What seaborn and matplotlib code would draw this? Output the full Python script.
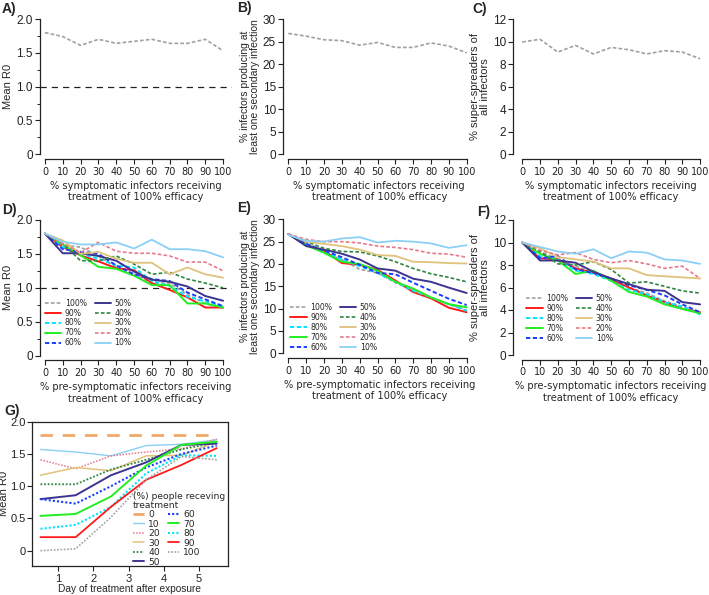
import numpy as np
import pandas as pd
import matplotlib
matplotlib.use("Agg")
import matplotlib.pyplot as plt
from matplotlib.ticker import MultipleLocator, FuncFormatter
import seaborn as sns

# ---- data ----
coverage = [0, 10, 20, 30, 40, 50, 60, 70, 80, 90, 100]

# A-C: symptomatic infectors treated
symp_r0 = [1.80, 1.74, 1.61, 1.70, 1.64, 1.67, 1.70, 1.64, 1.64, 1.70, 1.53]
symp_any = [26.8, 26.2, 25.4, 25.2, 24.2, 24.8, 23.7, 23.7, 24.7, 24.0, 22.5]
symp_super = [9.96, 10.2, 9.07, 9.66, 8.90, 9.48, 9.27, 8.90, 9.19, 9.07, 8.47]

# D-F: pre-symptomatic infectors treated, one row per % of symptomatic treated
groups = ["100%", "90%", "80%", "70%", "60%", "50%", "40%", "30%", "20%", "10%"]

pre_r0 = [
    [1.80, 1.63, 1.60, 1.47, 1.30, 1.20, 1.07, 1.07, 0.90, 0.77, 0.70],
    [1.80, 1.60, 1.48, 1.39, 1.29, 1.26, 1.07, 0.97, 0.86, 0.71, 0.71],
    [1.80, 1.60, 1.50, 1.43, 1.33, 1.30, 1.10, 1.03, 0.87, 0.80, 0.73],
    [1.80, 1.64, 1.48, 1.31, 1.28, 1.18, 1.04, 1.04, 0.77, 0.77, 0.71],
    [1.80, 1.57, 1.53, 1.50, 1.33, 1.20, 1.13, 1.10, 0.93, 0.83, 0.73],
    [1.80, 1.51, 1.51, 1.47, 1.40, 1.24, 1.12, 1.09, 1.02, 0.88, 0.81],
    [1.80, 1.65, 1.40, 1.40, 1.47, 1.35, 1.20, 1.23, 1.13, 1.07, 1.00],
    [1.80, 1.70, 1.50, 1.53, 1.43, 1.37, 1.37, 1.20, 1.30, 1.20, 1.15],
    [1.80, 1.65, 1.52, 1.67, 1.54, 1.51, 1.51, 1.47, 1.38, 1.38, 1.25],
    [1.80, 1.68, 1.64, 1.64, 1.67, 1.58, 1.71, 1.57, 1.57, 1.54, 1.45],
]

pre_any = [
    [26.7, 24.5, 22.5, 21.0, 18.8, 18.0, 15.8, 14.3, 12.5, 11.0, 9.7],
    [26.7, 24.3, 23.0, 20.2, 19.8, 18.7, 16.3, 13.7, 12.3, 10.2, 9.2],
    [26.7, 24.5, 22.8, 21.0, 19.5, 18.0, 16.0, 14.0, 12.5, 11.0, 9.5],
    [26.7, 24.2, 22.5, 20.5, 20.0, 18.5, 16.0, 14.5, 12.5, 11.0, 10.3],
    [26.7, 24.5, 23.0, 21.5, 19.8, 18.0, 17.7, 15.8, 14.0, 12.2, 10.8],
    [26.7, 24.0, 23.2, 22.3, 21.0, 19.0, 18.5, 16.7, 16.0, 14.7, 13.5],
    [26.7, 25.0, 23.5, 22.8, 22.7, 21.8, 20.5, 19.0, 17.8, 17.0, 16.0],
    [26.7, 25.0, 24.5, 24.0, 23.2, 22.0, 21.8, 20.5, 20.4, 20.2, 20.1],
    [26.7, 25.5, 25.0, 25.0, 24.7, 24.0, 23.7, 23.2, 22.4, 22.2, 21.5],
    [26.5, 25.2, 25.0, 25.7, 26.0, 24.8, 25.2, 25.0, 24.6, 23.6, 24.2],
]

pre_super = [
    [10.0, 9.2, 8.5, 7.9, 7.3, 6.8, 6.0, 5.5, 4.8, 4.3, 3.8],
    [10.0, 8.6, 8.5, 7.7, 7.3, 6.7, 6.0, 5.3, 4.7, 4.1, 3.8],
    [10.0, 8.8, 8.5, 7.5, 7.2, 6.6, 5.8, 5.4, 4.7, 4.3, 3.6],
    [10.0, 9.0, 8.4, 7.2, 7.5, 6.6, 5.6, 5.2, 4.5, 4.1, 3.7],
    [10.0, 8.6, 8.8, 7.6, 7.3, 6.8, 6.2, 5.8, 5.3, 4.5, 3.8],
    [10.0, 8.4, 8.4, 8.2, 7.4, 6.8, 6.3, 5.8, 5.7, 4.7, 4.5],
    [10.0, 9.2, 8.1, 8.0, 8.3, 7.6, 6.4, 6.5, 6.1, 5.7, 5.5],
    [10.0, 9.5, 8.7, 8.5, 8.3, 7.7, 7.7, 7.1, 7.0, 6.9, 6.8],
    [10.0, 9.3, 8.9, 9.1, 8.5, 8.2, 8.4, 8.1, 7.7, 7.9, 6.8],
    [10.0, 9.6, 9.2, 9.0, 9.4, 8.6, 9.2, 9.1, 8.5, 8.4, 8.1],
]

# G: day of treatment after exposure
days = [0.5, 1.5, 2.5, 3.5, 4.5, 5.5]
people = ["0", "10", "20", "30", "40", "50", "60", "70", "80", "90", "100"]
day_r0 = [
    [1.80, 1.80, 1.80, 1.80, 1.80, 1.80],
    [1.57, 1.53, 1.47, 1.63, 1.65, 1.72],
    [1.41, 1.27, 1.47, 1.53, 1.58, 1.73],
    [1.17, 1.29, 1.24, 1.47, 1.48, 1.69],
    [1.03, 1.03, 1.26, 1.41, 1.57, 1.68],
    [0.80, 0.86, 1.17, 1.37, 1.64, 1.66],
    [0.80, 0.73, 1.00, 1.29, 1.50, 1.63],
    [0.54, 0.57, 0.84, 1.32, 1.64, 1.69],
    [0.34, 0.40, 0.68, 1.20, 1.48, 1.47],
    [0.21, 0.21, 0.68, 1.10, 1.33, 1.59],
    [0.00, 0.03, 0.52, 1.10, 1.46, 1.41],
]

# ---- styles ----
dash = (0, (2.2, 1.3))
line_style = {
    "100%": ("#a0a0a0", dash, 1.2),
    "90%": ("#ff1a1a", "-", 1.4),
    "80%": ("#00e5ff", dash, 1.4),
    "70%": ("#22ee22", "-", 1.4),
    "60%": ("#1a3cff", dash, 1.4),
    "50%": ("#3d3490", "-", 1.4),
    "40%": ("#2e8540", dash, 1.2),
    "30%": ("#e0c27a", "-", 1.3),
    "20%": ("#e8798a", dash, 1.2),
    "10%": ("#8ccff5", "-", 1.3),
}
day_style = {
    "0": ("#f2a86a", (0, (4.5, 3.5)), 2.0),
    "10": ("#8ccff5", "-", 1.0),
    "20": ("#e8798a", (0, (1, 1)), 1.1),
    "30": ("#e0c27a", "-", 1.1),
    "40": ("#2e8540", (0, (1, 1)), 1.3),
    "50": ("#3d3490", "-", 1.4),
    "60": ("#1a3cff", (0, (1, 1)), 1.5),
    "70": ("#22ee22", "-", 1.4),
    "80": ("#00e5ff", (0, (1, 1)), 1.5),
    "90": ("#ff1a1a", "-", 1.3),
    "100": ("#a0a0a0", (0, (1, 1)), 1.2),
}

sns.set_theme(style="ticks")
plt.rcParams["font.family"] = ["Liberation Sans", "DejaVu Sans"]
plt.rcParams.update({
    "axes.linewidth": 0.9,
    "axes.edgecolor": "#222222",
    "xtick.color": "#222222",
    "ytick.color": "#222222",
    "xtick.major.size": 3.5,
    "ytick.major.size": 3.5,
    "ytick.minor.size": 2.2,
    "xtick.major.width": 0.8,
    "ytick.major.width": 0.8,
    "ytick.minor.width": 0.7,
    "xtick.major.pad": 2,
    "ytick.major.pad": 1.5,
})

W, H = 709, 595
fig = plt.figure(figsize=(W / 100, H / 100), dpi=100)


def add_axes(left, top, right, bottom):
    return fig.add_axes([left / W, 1 - bottom / H, (right - left) / W, (bottom - top) / H])


def fmt_r0(v, _):
    return "0" if abs(v) < 1e-9 else f"{v:.1f}"


def style_panel(ax, ymax, ystep, xleft, xlabel, ylabel, minor=None, fmt=None, ysize=8):
    sns.despine(ax=ax)
    ax.set_xlim(xleft, 105)
    ax.set_ylim(0, ymax)
    ax.spines["bottom"].set_position(("outward", 3.3))
    ax.spines["bottom"].set_bounds(0, 100)
    ax.spines["left"].set_bounds(0, ymax)
    ax.set_xticks(coverage)
    ax.yaxis.set_major_locator(MultipleLocator(ystep))
    if minor:
        ax.yaxis.set_minor_locator(MultipleLocator(minor))
    if fmt:
        ax.yaxis.set_major_formatter(FuncFormatter(fmt))
    else:
        ax.yaxis.set_major_formatter(FuncFormatter(lambda v, _: f"{v:.0f}"))
    ax.tick_params(axis="y", labelsize=8.5)
    ax.tick_params(axis="x", labelsize=7.0)
    for lab in ax.get_xticklabels():
        lab.set_family("DejaVu Sans")
    ax.set_xlabel(xlabel, family="DejaVu Sans", fontsize=7.1, labelpad=3)
    ax.set_ylabel(ylabel, fontsize=ysize, labelpad=2, linespacing=1.05)


symp_label = "% symptomatic infectors receiving\ntreatment of 100% efficacy"
pre_label = "% pre-symptomatic infectors receiving\ntreatment of 100% efficacy"
any_label = "% infectors producing at\nleast one secondary infection"
super_label = "% super-spreaders of\nall infectors"

# ---- top row ----
axA = add_axes(39.6, 19, 232, 154.3)
axA.axhline(1.0, color="#222222", ls=(0, (5, 4)), lw=0.9)
sns.lineplot(x=coverage, y=symp_r0, ax=axA, color="#a0a0a0", linestyle=dash, linewidth=1.2)
style_panel(axA, 2.0, 0.5, -3, symp_label, "Mean R0", minor=0.25, fmt=fmt_r0)

axB = add_axes(283, 19, 475.6, 154.3)
sns.lineplot(x=coverage, y=symp_any, ax=axB, color="#a0a0a0", linestyle=dash, linewidth=1.2)
style_panel(axB, 30, 5, -3, symp_label, any_label, ysize=7.5)

axC = add_axes(513, 19, 709, 154.3)
sns.lineplot(x=coverage, y=symp_super, ax=axC, color="#a0a0a0", linestyle=dash, linewidth=1.2)
style_panel(axC, 12, 2, -5.2, symp_label, super_label)

# ---- middle row ----
def draw_groups(ax, rows):
    for g, ys in zip(groups, rows):
        c, ls, lw = line_style[g]
        sns.lineplot(x=coverage, y=ys, ax=ax, color=c, linestyle=ls, linewidth=lw, label=g)


def group_legend(ax, anchor):
    leg = ax.legend(loc="lower left", bbox_to_anchor=anchor, ncol=2, frameon=False,
                    fontsize=5.6, handlelength=2.1, handletextpad=0.45,
                    columnspacing=1.0, labelspacing=0.12, borderpad=0.2,
                    borderaxespad=0)
    for t in leg.get_texts():
        t.set_family("DejaVu Sans")


axD = add_axes(39.6, 220, 232, 355.7)
axD.axhline(1.0, color="#222222", ls=(0, (5, 4)), lw=0.9)
draw_groups(axD, pre_r0)
style_panel(axD, 2.0, 0.5, -3, pre_label, "Mean R0", minor=0.25, fmt=fmt_r0)
group_legend(axD, (0.02, 0.05))

axE = add_axes(283, 219.3, 475.6, 353.3)
draw_groups(axE, pre_any)
style_panel(axE, 30, 5, -3, pre_label, any_label, ysize=7.5)
group_legend(axE, (0.03, 0.0))

axF = add_axes(513, 220, 709, 355)
draw_groups(axF, pre_super)
style_panel(axF, 12, 2, -5.2, pre_label, super_label)
group_legend(axF, (0.06, 0.08))

# ---- bottom panel ----
axG = add_axes(32, 421.7, 228, 566)
for p, ys in zip(people, day_r0):
    c, ls, lw = day_style[p]
    sns.lineplot(x=days, y=ys, ax=axG, color=c, linestyle=ls, linewidth=lw, label=p)
axG.set_xlim(0.26, 5.82)
axG.set_ylim(-0.237, 2.0)
axG.set_xticks([1, 2, 3, 4, 5])
axG.yaxis.set_major_locator(MultipleLocator(0.5))
axG.yaxis.set_major_formatter(FuncFormatter(fmt_r0))
axG.tick_params(labelsize=8)
axG.tick_params(axis="y", pad=1)
axG.set_xlabel("Day of treatment after exposure", fontsize=7.3)
axG.xaxis.set_label_coords(0.5, -0.125)
axG.set_ylabel("Mean R0", fontsize=8)
axG.yaxis.set_label_coords(-0.115, 0.5)
legG = axG.legend(loc="lower left", bbox_to_anchor=(0.51, -0.01), ncol=2, frameon=False,
                  title="(%) people receving\ntreatment", alignment="left",
                  fontsize=6.6, title_fontsize=6.6, handlelength=1.2,
                  handletextpad=0.5, columnspacing=0.8, labelspacing=0.05,
                  borderpad=0.1, borderaxespad=0)
for t in legG.get_texts():
    t.set_family("DejaVu Sans")
legG.get_title().set_family("DejaVu Sans")
legG.get_title().set_linespacing(1.0)

# panel letters
for letter, x, y in [("A)", 2, 9), ("B)", 237, 8), ("C)", 472, 9),
                     ("D)", 2, 210), ("E)", 237, 208), ("F)", 477, 212), ("G)", 4, 411)]:
    fig.text(x / W, 1 - y / H, letter, fontsize=10, fontweight="bold", va="center", ha="left")

plt.savefig("out.png", dpi=100)
